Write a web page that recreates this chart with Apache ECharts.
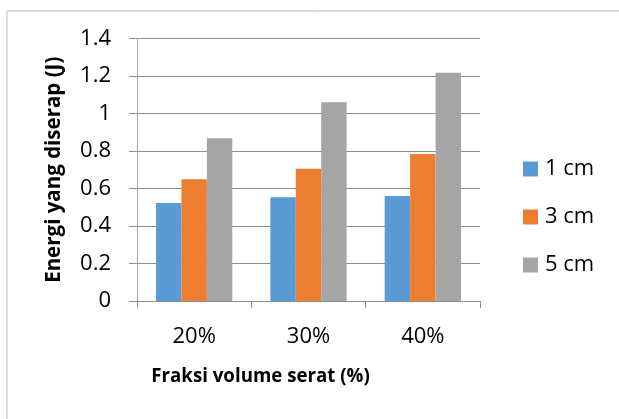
<!DOCTYPE html>
<html>
<head>
<meta charset="utf-8">
<script src="https://cdn.jsdelivr.net/npm/echarts@6/dist/echarts.min.js"></script>
<style>
  html, body { margin: 0; padding: 0; background: #fff; }
  #main { width: 619px; height: 419px; }
</style>
</head>
<body>
<div id="main"></div>
<script>
// categories on the x axis
const categories = ['20%', '30%', '40%'];
// series names (fibre length)
const seriesNames = ['1 cm', '3 cm', '5 cm'];
// absorbed energy (J) per series
const data1cm = [0.523, 0.553, 0.56];
const data3cm = [0.649, 0.706, 0.784];
const data5cm = [0.868, 1.06, 1.218];
const colors = ['#5B9BD5', '#ED7D31', '#A5A5A5'];

const font = '"Open Sans", "Noto Sans", sans-serif';
const chart = echarts.init(document.getElementById('main'));

const seriesData = [data1cm, data3cm, data5cm];

const option = {
  animation: false,
  color: colors,
  // outer chart border, cropped on the right and bottom like the reference
  graphic: [{
    type: 'rect',
    left: 4.5,
    top: 8.5,
    shape: { width: 700, height: 500 },
    style: { fill: 'none', stroke: '#bdbdbd', lineWidth: 1 },
    silent: true
  }],
  grid: { left: 137, right: 139, top: 38.5, bottom: 118 },
  legend: {
    orient: 'vertical',
    left: 523,
    top: 157,
    padding: 0,
    itemWidth: 15,
    itemHeight: 15,
    itemGap: 24,
    icon: 'rect',
    data: seriesNames,
    textStyle: { fontFamily: font, fontSize: 22, color: '#000', lineHeight: 24, padding: [0, 0, 0, 2] }
  },
  xAxis: {
    type: 'category',
    data: categories,
    name: 'Fraksi volume serat (%)',
    nameLocation: 'middle',
    nameGap: 66,
    nameTextStyle: {
      fontFamily: font, fontSize: 18.7, fontWeight: 'bold', color: '#000',
      padding: [0, 96, 0, 0]
    },
    axisLine: { lineStyle: { color: '#8c8c8c', width: 1 } },
    axisTick: { show: true, alignWithLabel: false, length: 7, lineStyle: { color: '#8c8c8c' } },
    axisLabel: { fontFamily: font, fontSize: 22, color: '#000', margin: 25 }
  },
  yAxis: {
    type: 'value',
    min: 0,
    max: 1.4,
    interval: 0.2,
    name: 'Energi yang diserap (J)',
    nameLocation: 'middle',
    nameGap: 72,
    nameTextStyle: { fontFamily: font, fontSize: 20.5, fontWeight: 'bold', color: '#000' },
    axisLine: { show: true, lineStyle: { color: '#a6a6a6', width: 1 } },
    axisTick: { show: true, length: 8, lineStyle: { color: '#8c8c8c' } },
    axisLabel: { fontFamily: font, fontSize: 22, color: '#000', margin: 26 },
    splitLine: { lineStyle: { color: '#8c8c8c', width: 1 } }
  },
  series: seriesNames.map((name, i) => ({
    name: name,
    type: 'bar',
    data: seriesData[i],
    barGap: 0,
    barCategoryGap: '33.3%',
    itemStyle: { color: colors[i] }
  }))
};

chart.setOption(option);
</script>
</body>
</html>
